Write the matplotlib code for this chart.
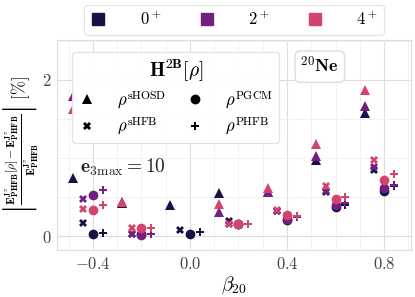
import numpy as np
import matplotlib
matplotlib.use("Agg")
import matplotlib.pyplot as plt
from matplotlib.lines import Line2D
from matplotlib.ticker import MultipleLocator, FixedLocator, FuncFormatter

plt.rcParams['mathtext.fontset'] = 'cm'
plt.rcParams['font.family'] = 'serif'
plt.rcParams['font.serif'] = ['DejaVu Serif']

nan = np.nan
beta = np.array([-0.4, -0.2, 0.0, 0.2, 0.4, 0.6, 0.8])
states = ["0", "2", "4"]
colors = ["#1b1044", "#721f81", "#d3436e"]

# relative error [%] per density, one row per J^pi
shosd = [[0.74, 0.42, 0.40, 0.55, 0.56, 0.98, 1.57],
         [1.80, 0.43, nan, 0.31, 0.57, 1.03, 1.67],
         [1.63, 0.44, nan, 0.41, 0.61, 1.18, 1.87]]
shfb = [[0.17, 0.03, 0.08, 0.19, 0.32, 0.56, 0.84],
        [0.48, 0.03, nan, 0.15, 0.32, 0.58, 0.88],
        [0.35, 0.10, nan, 0.16, 0.33, 0.64, 0.98]]
pgcm = [[0.02, 0.02, 0.03, 0.16, 0.21, 0.37, 0.58],
        [0.52, 0.01, nan, 0.15, 0.22, 0.40, 0.62],
        [0.33, 0.10, nan, 0.16, 0.27, 0.47, 0.72]]
phfb = [[0.04, 0.03, 0.05, 0.16, 0.24, 0.40, 0.64],
        [0.59, 0.03, nan, 0.15, 0.24, 0.42, 0.66],
        [0.40, 0.10, nan, 0.16, 0.26, 0.50, 0.79]]

# (data, marker, size, x offset, label)
sets = [(shosd, "^", 7, -0.08, r"$\rho^{\rm sHOSD}$"),
        (shfb, "X", 6, -0.04, r"$\rho^{\rm sHFB}$"),
        (pgcm, "o", 7, 0.0, r"$\rho^{\rm PGCM}$"),
        (phfb, "P", 6, 0.04, r"$\rho^{\rm PHFB}$")]

fig = plt.figure(figsize=(4.15, 2.97), dpi=100)
ax = fig.add_axes([0.137, 0.158, 0.853, 0.707])

for i, c in enumerate(colors):
    for data, m, ms, off, lab in sets:
        ax.plot(beta + off, data[i], ls="none", marker=m, ms=ms, color=c,
                markeredgewidth=0, zorder=3)

ax.set_xlim(-0.548, 0.91)
ax.set_ylim(-0.18, 2.51)
ax.xaxis.set_major_locator(FixedLocator([-0.4, 0.0, 0.4, 0.8]))
ax.xaxis.set_minor_locator(MultipleLocator(0.1))
ax.yaxis.set_major_locator(FixedLocator([0, 2]))
ax.yaxis.set_minor_locator(MultipleLocator(0.5))
ax.xaxis.set_major_formatter(FuncFormatter(lambda v, p: r"$%.1f$" % v))
ax.yaxis.set_major_formatter(FuncFormatter(lambda v, p: r"$%d$" % v))
ax.tick_params(which="both", length=0, labelsize=12, colors="#444444", pad=4)
ax.grid(which="major", color="#dddddd", lw=0.8)
ax.grid(which="minor", color="#f0f0f0", lw=0.6)
ax.set_axisbelow(True)
for s in ax.spines.values():
    s.set_color("#dddddd")
    s.set_linewidth(0.8)

ax.set_xlabel(r"$\beta_{\mathbf{20}}$", fontsize=14, labelpad=1)
ax.set_ylabel(r"$\left|\frac{\mathbf{E}^{\mathbf{J}^{\pi}}_{\mathbf{PHFB}}[\rho]"
              r"-\mathbf{E}^{\mathbf{J}^{\pi}}_{\mathbf{PHFB}}}"
              r"{\mathbf{E}^{\mathbf{J}^{\pi}}_{\mathbf{PHFB}}}\right|\ [\%]$",
              fontsize=12, labelpad=1)

ax.text(-0.276, 0.88, r"$\mathbf{e}_{3\rm max} = \mathbf{10}$", fontsize=14,
        ha="center", va="center", color="#222222")
ax.text(0.535, 2.17, r"$^{20}\mathbf{Ne}$", fontsize=13, ha="center", va="center",
        bbox=dict(boxstyle="round,pad=0.3", fc="white", ec="#dddddd"), zorder=6)

# inner legend: density types
h_dens = [Line2D([], [], ls="none", marker=m, ms=ms, color="black", markeredgewidth=0)
          for data, m, ms, off, lab in sets]
leg1 = ax.legend(h_dens, [s[4] for s in sets], ncol=2, loc="upper left",
                 bbox_to_anchor=(0.02, 0.985), title=r"$\mathbf{H}^{\mathbf{2B}}[\rho]$",
                 title_fontsize=14, fontsize=12, handlelength=1.0, handletextpad=1.3,
                 columnspacing=1.2, borderpad=0.4, labelspacing=0.3,
                 edgecolor="#dddddd", framealpha=0.8)
leg1.get_frame().set_linewidth(0.8)
ax.add_artist(leg1)

# top legend: J^pi states
h_st = [Line2D([], [], ls="none", marker="s", ms=8, color=c) for c in colors]
leg2 = fig.legend(h_st, [r"$%s^+$" % s for s in states], ncol=3, loc="center",
                  bbox_to_anchor=(0.564, 0.933), fontsize=12, handlelength=1.0,
                  handletextpad=2.0, columnspacing=2.2, borderpad=0.35,
                  edgecolor="#dddddd")
leg2.get_frame().set_linewidth(0.8)

fig.savefig("out.png", dpi=100)
